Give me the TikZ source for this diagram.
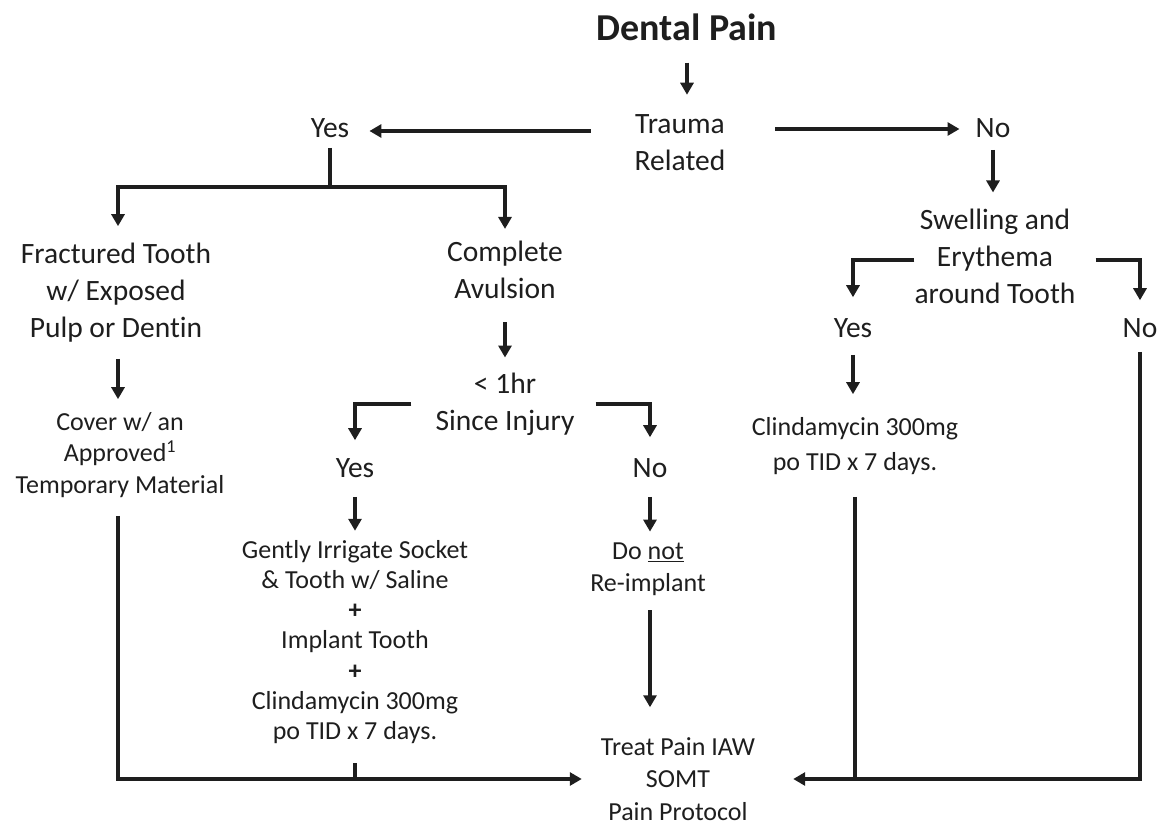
\documentclass[tikz,border=0pt]{standalone}
\usepackage{fontspec}
\setmainfont[Ligatures=NoCommon]{Carlito}
\usetikzlibrary{arrows.meta}
\definecolor{ink}{HTML}{1E1E1E}
\begin{document}
\begin{tikzpicture}[x=1pt, y=-1pt,
  txt/.style={font=\fontsize{29.5}{37}\selectfont, align=center, inner sep=0pt, text=ink},
  sml/.style={font=\fontsize{26}{31.5}\selectfont, align=center, inner sep=0pt, text=ink},
  ln/.style={draw=ink, line width=3.3pt},
  arr/.style={ln, -{Triangle[length=12pt, width=13pt]}}]
\useasboundingbox (0,0) rectangle (1163,825);
% Kopf
\node[txt, font=\fontsize{38}{44}\selectfont\bfseries] (title) at (687,27) {Dental Pain};
\node[txt] (trauma) at (680,143) {Trauma\\Related};
\node[txt] (yes1) at (330,128) {Yes};
\node[txt] (no1) at (993,128) {No};
% Trauma: ja
\node[txt] (fract) at (116,293) {Fractured Tooth\\w/ Exposed\\Pulp or Dentin};
\node[sml] (cover) at (120,455) {Cover w/ an\\Approved\textsuperscript{1}\\Temporary Material};
\node[txt] (avul) at (505,270) {Complete\\Avulsion};
\node[txt] (hr) at (505,404) {< 1hr\\Since Injury};
\node[txt] (yes2) at (355,468) {Yes};
\node[txt] (no2) at (650,468) {No};
\node[sml, font=\fontsize{26}{30.3}\selectfont] (gently) at (355,642) {Gently Irrigate Socket\\\& Tooth w/ Saline\\\textbf{+}\\Implant Tooth\\\textbf{+}\\Clindamycin 300mg\\po TID x 7 days.};
\node[sml] (donot) at (648,569) {Do \underline{not}\\Re-implant};
\node[sml, font=\fontsize{26}{32.5}\selectfont] (treat) at (678,779) {Treat Pain IAW\\SOMT\\Pain Protocol};
% Trauma: nein
\node[txt] (swell) at (995,256) {Swelling and\\Erythema\\around Tooth};
\node[txt] (yes3) at (853,328) {Yes};
\node[txt] (no3) at (1140,328) {No};
\node[sml, font=\fontsize{26}{35}\selectfont] (clinda) at (855,446) {Clindamycin 300mg\\po TID x 7 days.};
\coordinate (split) at (330,187);
% Pfeile
\draw[arr, shorten <=22pt, shorten >=20pt] (title.south) -- (title.south |- trauma.north);
\draw[arr, shorten <=44pt, shorten >=20pt] ([yshift=12pt]trauma.west) -- ([yshift=12pt]trauma.west -| yes1.east);
\draw[arr, shorten <=50pt, shorten >=16pt] ([yshift=14pt]trauma.east) -- ([yshift=14pt]trauma.east -| no1.west);
\draw[ln, shorten <=10pt] (yes1.south) -- (split);
\draw[arr, shorten >=17pt] (split) -| ([xshift=2pt]fract.north);
\draw[arr, shorten >=12pt] (split) -| (avul.north);
\draw[arr, shorten <=16pt, shorten >=13pt] ([xshift=2pt]fract.south) -- ([xshift=2pt]fract.south |- cover.north);
\draw[arr, shorten <=18pt, shorten >=19pt] ([xshift=-2pt]cover.south) |- (treat.west);
\draw[ln, shorten <=19pt] (gently.south) -- (gently.south |- treat.west);
\draw[arr, shorten <=23pt, shorten >=15pt] (avul.south) -- (hr.north);
\draw[arr, shorten <=24pt, shorten >=18pt] (hr.west) -| (yes2.north);
\draw[arr, shorten <=21pt, shorten >=21pt] (hr.east) -| (no2.north);
\draw[arr, shorten <=19pt, shorten >=9pt] (yes2.south) -- (gently.north);
\draw[arr, shorten <=19pt, shorten >=11pt] (no2.south) -- (no2.south |- donot.north);
\draw[arr, shorten <=15pt, shorten >=30pt] (no2.south |- donot.south) -- (no2.south |- treat.north);
\draw[arr, shorten <=12pt, shorten >=16pt] (no1.south) -- (no1.south |- swell.north);
\draw[arr, shorten >=21pt] ([yshift=-4pt]swell.west) -| (yes3.north);
\draw[arr, shorten <=20pt, shorten >=18pt] ([yshift=-4pt]swell.east) -| (no3.north);
\draw[arr, shorten <=17pt, shorten >=23pt] (yes3.south) -- (yes3.south |- clinda.north);
\draw[ln, shorten <=22pt] (clinda.south) -- (clinda.south |- treat.east);
\draw[arr, shorten <=14pt, shorten >=38pt] (no3.south) |- (treat.east);
\end{tikzpicture}
\end{document}
